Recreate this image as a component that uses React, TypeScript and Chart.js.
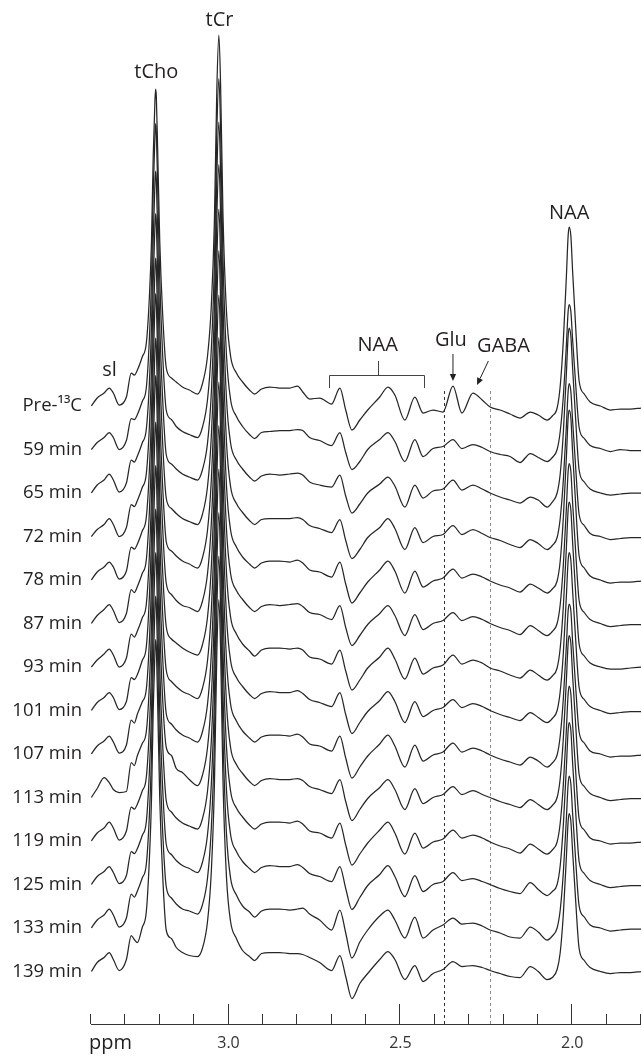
import React, { useEffect, useRef } from "react";
import { Chart, registerables } from "chart.js";

Chart.register(...registerables);

// ---------- DATA ----------
// chemical shift grid (ppm), shared by all spectra
const PPM = [
  3.399, 3.382, 3.362, 3.347, 3.335, 3.318, 3.297, 3.283, 3.274, 3.265, 3.251, 3.239,
  3.230, 3.224, 3.219, 3.214, 3.212, 3.210, 3.206, 3.200, 3.192, 3.181,
  3.166, 3.152, 3.134, 3.114, 3.090, 3.076,
  3.061, 3.050, 3.041, 3.034, 3.028, 3.023, 3.016, 3.006, 2.994, 2.977,
  2.959, 2.939, 2.924, 2.904, 2.880, 2.851, 2.822, 2.799, 2.784, 2.764,
  2.735, 2.700, 2.676, 2.659, 2.641, 2.618, 2.595, 2.560, 2.536, 2.516,
  2.487, 2.458, 2.434, 2.405, 2.376, 2.347, 2.321, 2.289, 2.262, 2.239,
  2.210, 2.181, 2.152, 2.122, 2.099, 2.073, 2.058, 2.044,
  2.035, 2.026, 2.017, 2.012, 2.009, 2.004, 1.999, 1.991, 1.980, 1.965, 1.948, 1.918, 1.889, 1.860, 1.831, 1.800,
];

const TIME_LABELS = [
  "Pre-\u00B9\u00B3C", "59 min", "65 min", "72 min", "78 min", "87 min", "93 min",
  "101 min", "107 min", "113 min", "119 min", "125 min", "133 min", "139 min",
];

// signal intensity of each spectrum (arbitrary units, relative to its own baseline)
const S_PRE = [
  0, 8, 13, 18, 13, 1, 9, 33, 31, 36, 49, 63,
  110, 165, 250, 305, 317, 310, 255, 165, 95, 38,
  28, 24, 19, 16, 12, 22,
  50, 100, 185, 316, 371, 321, 190, 95, 50, 33,
  24, 16, 12, 17, 19, 18, 18, 20, 14, 7, 8, 2, 18, -4, -24, -14, -4, 9, 19, 11, -14, 9, -7, -4, -6, 20, -7, 13, 6, -1, -4, -8, -12, -6, -9, -14, -10, -2,
  20, 65, 130, 170, 179, 170, 135, 85, 25, 12, 4, 0, -4, -3, -3, -2,
];
const S_59 = [
  0, 7, 12, 17, 12, 0, 9, 31, 30, 35, 48, 62,
  112, 170, 257, 314, 326, 318, 262, 170, 98, 39,
  30, 23, 18, 15, 12, 22,
  50, 100, 186, 317, 371, 321, 190, 95, 50, 33,
  23, 15, 11, 17, 18, 19, 19, 20, 19, 12, 9, 4, 17, -3, -20, -12, 0, 10, 17, 8, -12, 10, -7, 1, 3, 10, 1, 5, 2, -2, -5, -7, -13, -4, -8, -12, -8, 0,
  18, 53, 105, 138, 145, 138, 110, 70, 22, 11, 4, 1, -2, 0, -1, -1,
];
const S_65 = [
  0, 8, 13, 19, 13, 1, 10, 33, 31, 37, 50, 64,
  111, 168, 254, 310, 322, 314, 259, 168, 97, 38,
  29, 24, 19, 16, 13, 23,
  50, 100, 186, 317, 371, 321, 190, 95, 50, 33,
  24, 16, 12, 17, 19, 18, 19, 20, 18, 11, 8, 6, 18, -3, -20, -11, 0, 9, 16, 7, -14, 8, -5, 2, 4, 13, 3, 8, 4, 0, -4, -7, -10, -4, -7, -14, -9, 0,
  19, 60, 120, 157, 165, 157, 125, 79, 23, 11, 4, 0, -2, -1, 0, 0,
];
const S_72 = [
  0, 7, 12, 18, 12, 0, 9, 32, 30, 36, 49, 63,
  111, 168, 255, 311, 323, 315, 260, 168, 97, 38,
  28, 23, 18, 15, 12, 22,
  50, 100, 186, 318, 372, 322, 190, 95, 50, 33,
  24, 16, 12, 17, 18, 18, 18, 19, 17, 11, 8, 4, 17, -4, -22, -13, -1, 9, 18, 8, -13, 9, -6, 0, 2, 11, 2, 7, 3, -1, -4, -8, -11, -3, -7, -13, -9, -1,
  18, 56, 111, 145, 153, 145, 116, 74, 22, 11, 3, 0, -3, -2, -1, -1,
];
const S_78 = [
  0, 8, 13, 18, 13, 1, 9, 33, 31, 36, 49, 63,
  111, 168, 254, 310, 322, 314, 259, 168, 97, 38,
  29, 24, 19, 16, 12, 22,
  50, 100, 186, 317, 371, 321, 190, 95, 50, 33,
  23, 16, 12, 17, 19, 19, 18, 20, 17, 10, 8, 3, 18, -4, -23, -13, -2, 10, 19, 9, -13, 9, -7, -1, 2, 11, 2, 6, 3, -1, -5, -8, -12, -4, -8, -13, -9, -1,
  19, 62, 123, 162, 170, 162, 128, 81, 24, 12, 4, 0, -3, -2, -2, -1,
];
const S_87 = [
  0, 8, 14, 19, 13, 1, 10, 34, 31, 37, 50, 64,
  113, 172, 260, 318, 330, 322, 265, 172, 99, 40,
  29, 23, 18, 16, 12, 22,
  50, 100, 186, 318, 373, 322, 190, 95, 50, 33,
  24, 16, 12, 17, 19, 18, 19, 20, 17, 11, 9, 4, 18, -4, -22, -12, -1, 10, 18, 8, -12, 9, -6, 0, 3, 11, 3, 7, 4, 0, -4, -7, -11, -2, -7, -12, -8, 0,
  19, 58, 116, 152, 160, 152, 121, 77, 23, 11, 4, 0, -3, -2, -1, -1,
];
const S_93 = [
  0, 7, 13, 18, 12, 0, 9, 33, 30, 36, 49, 63,
  113, 171, 259, 317, 329, 321, 264, 171, 99, 40,
  28, 24, 19, 15, 12, 22,
  50, 100, 186, 317, 372, 322, 190, 95, 50, 33,
  23, 16, 11, 17, 19, 19, 18, 19, 17, 10, 8, 3, 17, -4, -23, -13, -1, 10, 19, 8, -12, 9, -7, -1, 2, 12, 3, 7, 4, -1, -4, -8, -11, -3, -8, -13, -9, -1,
  19, 60, 120, 157, 165, 157, 125, 79, 23, 11, 4, 0, -2, -2, -1, 0,
];
const S_101 = [
  0, 8, 13, 18, 13, 1, 9, 33, 31, 36, 50, 64,
  115, 174, 264, 323, 335, 327, 269, 174, 100, 40,
  29, 24, 19, 16, 12, 22,
  50, 100, 186, 318, 373, 322, 190, 95, 50, 33,
  24, 16, 12, 17, 19, 18, 18, 20, 17, 11, 8, 4, 18, -4, -23, -12, -1, 10, 19, 9, -12, 9, -6, 0, 3, 11, 3, 7, 4, 0, -4, -7, -10, -2, -7, -12, -8, 0,
  19, 57, 115, 150, 158, 150, 120, 76, 23, 11, 4, 0, -3, -2, -1, -1,
];
const S_107 = [
  0, 8, 13, 18, 12, 1, 9, 34, 31, 40, 52, 65,
  114, 173, 262, 320, 332, 324, 267, 173, 100, 40,
  30, 24, 19, 16, 12, 22,
  50, 100, 186, 317, 372, 322, 190, 95, 50, 33,
  23, 16, 12, 17, 19, 19, 18, 20, 17, 10, 8, 3, 18, -4, -24, -13, -2, 10, 19, 8, -13, 9, -7, -1, 2, 11, 2, 6, 3, -1, -5, -8, -11, -3, -7, -13, -9, -1,
  18, 55, 109, 143, 150, 143, 113, 72, 22, 11, 3, 0, -3, -2, -2, -1,
];
const S_113 = [
  0, 9, 20, 15, 8, 5, 6, 35, 32, 42, 54, 66,
  114, 173, 262, 320, 332, 324, 267, 173, 102, 50,
  42, 29, 25, 18, 12, 22,
  50, 100, 186, 317, 372, 322, 190, 95, 50, 33,
  24, 16, 12, 17, 19, 18, 18, 19, 17, 11, 8, 4, 18, -4, -23, -12, -1, 10, 18, 8, -12, 9, -6, 0, 3, 11, 3, 7, 3, 0, -4, -7, -10, -2, -7, -12, -8, 0,
  19, 59, 118, 154, 162, 154, 122, 78, 23, 11, 4, 0, -3, -2, -1, -1,
];
const S_119 = [
  0, 8, 13, 19, 13, 1, 10, 34, 32, 37, 50, 64,
  114, 173, 262, 320, 332, 324, 267, 173, 100, 40,
  29, 23, 18, 15, 12, 22,
  50, 100, 186, 317, 372, 322, 190, 95, 50, 33,
  24, 16, 12, 17, 19, 19, 18, 20, 17, 10, 8, 3, 18, -4, -24, -13, -2, 11, 19, 8, -13, 8, -7, -1, 2, 11, 3, 6, 3, -1, -5, -8, -12, -3, -8, -13, -9, -1,
  18, 56, 112, 147, 155, 147, 117, 75, 22, 11, 3, 0, -3, -2, -2, -1,
];
const S_125 = [
  0, 8, 13, 18, 12, 1, 9, 33, 31, 36, 49, 63,
  114, 173, 262, 320, 332, 324, 267, 173, 100, 40,
  30, 24, 19, 16, 12, 22,
  50, 100, 186, 317, 372, 322, 190, 95, 50, 33,
  23, 16, 12, 17, 19, 18, 18, 20, 17, 11, 8, 3, 18, -4, -25, -13, -1, 10, 19, 8, -12, 9, -7, 0, 3, 12, 4, 6, 3, 0, -4, -7, -9, 2, -5, -11, -7, 0,
  19, 59, 118, 154, 162, 154, 122, 78, 23, 11, 4, 0, -3, -2, -1, -1,
];
const S_133 = [
  0, 8, 13, 19, 13, 1, 10, 34, 31, 37, 50, 64,
  114, 173, 262, 320, 332, 324, 267, 173, 100, 41,
  30, 24, 19, 17, 14, 23,
  50, 100, 186, 317, 372, 322, 190, 95, 50, 33,
  22, 16, 11, 17, 19, 19, 18, 19, 20, 14, 8, -2, 18, -5, -30, -14, -2, 12, 18, 8, -10, 11, -10, -2, 3, 10, 4, 5, 2, -2, -5, -9, -10, 1, -4, -12, -8, 0,
  18, 55, 110, 144, 152, 144, 115, 73, 22, 11, 3, 0, -3, -2, -1, -1,
];
const S_139 = [
  0, 9, 14, 19, 12, 1, 12, 36, 32, 29, 44, 60,
  114, 173, 262, 320, 332, 324, 267, 173, 100, 41,
  33, 24, 19, 16, 15, 23,
  50, 100, 186, 317, 372, 322, 190, 95, 50, 33,
  21, 15, 11, 18, 19, 19, 18, 18, 17, 14, 9, 1, 16, -5, -27, -12, -2, 12, 20, 12, -8, 6, -10, -2, 2, 10, 5, 6, 4, 1, -2, -5, -6, 5, 0, -8, -6, 2,
  19, 57, 115, 150, 158, 150, 120, 76, 23, 11, 4, 0, -2, -1, -1, 0,
];

const SERIES = [S_PRE, S_59, S_65, S_72, S_78, S_87, S_93, S_101, S_107, S_113, S_119, S_125, S_133, S_139];

// axis
const TICK_VALUES = [3.0, 2.5, 2.0];
const TICK_LABELS = ["3.0", "2.5", "2.0"];
const AXIS_MIN = 1.8;
const AXIS_MAX = 3.4;
// Glu / GABA marker lines (ppm)
const MARKER_PPM = [2.373, 2.239];

// ---------- LAYOUT ----------
const W = 642;
const H = 1057;
const AXIS_Y = 1024;
const FIRST_BASE = AXIS_Y - 406; // y value of first spectrum baseline
const STEP = 43.5; // vertical stacking step
const TEXT = "#231f20";
const FONT = '"Open Sans", "DejaVu Sans", sans-serif';

function arrow(ctx: CanvasRenderingContext2D, x1: number, y1: number, x2: number, y2: number) {
  const a = Math.atan2(y2 - y1, x2 - x1);
  const len = 7;
  const hw = 3.2;
  const bx = x2 - len * Math.cos(a);
  const by = y2 - len * Math.sin(a);
  ctx.beginPath();
  ctx.moveTo(x1, y1);
  ctx.lineTo(bx, by);
  ctx.stroke();
  ctx.beginPath();
  ctx.moveTo(x2, y2);
  ctx.lineTo(bx + hw * Math.sin(a), by - hw * Math.cos(a));
  ctx.lineTo(bx - hw * Math.sin(a), by + hw * Math.cos(a));
  ctx.closePath();
  ctx.fill();
}

const overlay = {
  id: "nmrOverlay",
  beforeDatasetsDraw(chart: any) {
    const ctx: CanvasRenderingContext2D = chart.ctx;
    const xs = chart.scales.x;
    ctx.save();
    ctx.lineWidth = 1;
    ctx.setLineDash([3, 3]);
    MARKER_PPM.forEach((p, j) => {
      const x = Math.round(xs.getPixelForValue(p)) + 0.5;
      ctx.strokeStyle = j === 0 ? "#333" : "#8c8c8c";
      ctx.beginPath();
      ctx.moveTo(x, 391);
      ctx.lineTo(x, AXIS_Y);
      ctx.stroke();
    });
    ctx.restore();
  },
  afterDraw(chart: any) {
    const ctx: CanvasRenderingContext2D = chart.ctx;
    const xs = chart.scales.x;
    const ys = chart.scales.y;
    ctx.save();
    ctx.fillStyle = TEXT;
    ctx.strokeStyle = "#333";
    ctx.lineWidth = 1;
    ctx.setLineDash([]);

    // time labels
    ctx.font = `18.5px ${FONT}`;
    ctx.textAlign = "right";
    ctx.textBaseline = "middle";
    TIME_LABELS.forEach((lab, i) => {
      const y = ys.getPixelForValue(FIRST_BASE - i * STEP);
      ctx.fillText(lab, 82, y);
    });

    // peak labels
    ctx.textAlign = "center";
    ctx.font = `20px ${FONT}`;
    ctx.fillText("tCho", xs.getPixelForValue(3.21), 72);
    ctx.fillText("tCr", xs.getPixelForValue(3.026), 20);
    ctx.fillText("NAA", xs.getPixelForValue(2.009), 213);
    ctx.fillText("sl", xs.getPixelForValue(3.346), 370);
    ctx.fillText("NAA", xs.getPixelForValue(2.566), 345);
    ctx.fillText("Glu", xs.getPixelForValue(2.353), 340);
    ctx.fillText("GABA", xs.getPixelForValue(2.2), 346);

    // NAA bracket
    const bl = Math.round(xs.getPixelForValue(2.708)) + 0.5;
    const br = Math.round(xs.getPixelForValue(2.431)) + 0.5;
    const bc = Math.round(xs.getPixelForValue(2.566)) + 0.5;
    ctx.strokeStyle = "#444";
    ctx.beginPath();
    ctx.moveTo(bl, 388);
    ctx.lineTo(bl, 375.5);
    ctx.lineTo(br, 375.5);
    ctx.lineTo(br, 388);
    ctx.moveTo(bc, 375.5);
    ctx.lineTo(bc, 361);
    ctx.stroke();

    // arrows
    ctx.strokeStyle = "#222";
    ctx.fillStyle = "#222";
    const gx = xs.getPixelForValue(2.347);
    arrow(ctx, gx, 354, gx, 381);
    arrow(ctx, xs.getPixelForValue(2.244), 361, xs.getPixelForValue(2.277), 385);

    // x axis
    ctx.strokeStyle = "#333";
    ctx.fillStyle = TEXT;
    const x0 = xs.getPixelForValue(AXIS_MAX);
    const x1 = xs.getPixelForValue(AXIS_MIN);
    ctx.beginPath();
    ctx.moveTo(x0, AXIS_Y + 0.5);
    ctx.lineTo(x1, AXIS_Y + 0.5);
    ctx.stroke();
    for (let t = 0; t <= 16; t++) {
      const v = AXIS_MAX - t * 0.1;
      const major = TICK_VALUES.some((m) => Math.abs(m - v) < 1e-6);
      const x = Math.round(xs.getPixelForValue(v)) - 0.5;
      ctx.beginPath();
      ctx.moveTo(x, AXIS_Y);
      ctx.lineTo(x, AXIS_Y - (major ? 20 : 10));
      ctx.stroke();
    }
    ctx.font = `16px ${FONT}`;
    ctx.textAlign = "center";
    ctx.fillStyle = "#333";
    TICK_VALUES.forEach((v, i) => {
      ctx.fillText(TICK_LABELS[i], xs.getPixelForValue(v), 1043);
    });
    ctx.font = `20px ${FONT}`;
    ctx.textAlign = "left";
    ctx.fillStyle = TEXT;
    ctx.fillText("ppm", 89, 1043);
    ctx.restore();
  },
};

export default function App() {
  const ref = useRef<HTMLCanvasElement>(null);
  useEffect(() => {
    const canvas = ref.current;
    if (!canvas) return;
    const datasets = SERIES.map((s, i) => ({
      label: TIME_LABELS[i],
      data: PPM.map((p, k) => ({ x: p, y: FIRST_BASE - i * STEP + s[k] })),
      borderColor: "#262626",
      borderWidth: 1.25,
      pointRadius: 0,
      fill: false,
      cubicInterpolationMode: "monotone" as const,
    }));
    const chart = new Chart(canvas, {
      type: "line",
      data: { datasets },
      options: {
        animation: false,
        responsive: false,
        events: [],
        layout: { padding: { left: 91, right: 1, top: 0, bottom: H - AXIS_Y } },
        scales: {
          x: { type: "linear", min: AXIS_MIN, max: AXIS_MAX, reverse: true, display: false },
          y: { type: "linear", min: 0, max: AXIS_Y, display: false },
        },
        plugins: { legend: { display: false }, tooltip: { enabled: false } },
      },
      plugins: [overlay],
    });
    return () => chart.destroy();
  }, []);
  return (
    <div style={{ position: "absolute", left: 0, top: 0, width: W, height: H, background: "#fff" }}>
      <canvas ref={ref} width={W} height={H} style={{ display: "block" }} />
    </div>
  );
}
